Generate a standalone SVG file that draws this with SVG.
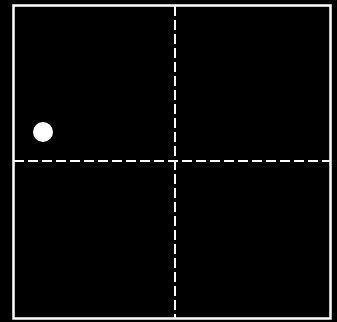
<svg xmlns="http://www.w3.org/2000/svg" width="337" height="322" viewBox="0 0 337 322">
<style>
.dash{stroke:#fff;stroke-width:2;stroke-dasharray:10 4;fill:none}
</style>
<rect x="0" y="0" width="337" height="322" fill="#000"/>
<rect x="13.5" y="5.5" width="317" height="313" fill="none" stroke="#fff" stroke-width="2.5"/>
<g id="grid">
<line class="dash" x1="14" y1="161" x2="330" y2="161"/>
<line class="dash" x1="175" y1="6" x2="175" y2="318"/>
</g>
<g id="dot"><circle cx="43" cy="132" r="10" fill="#fff"/></g>
</svg>
